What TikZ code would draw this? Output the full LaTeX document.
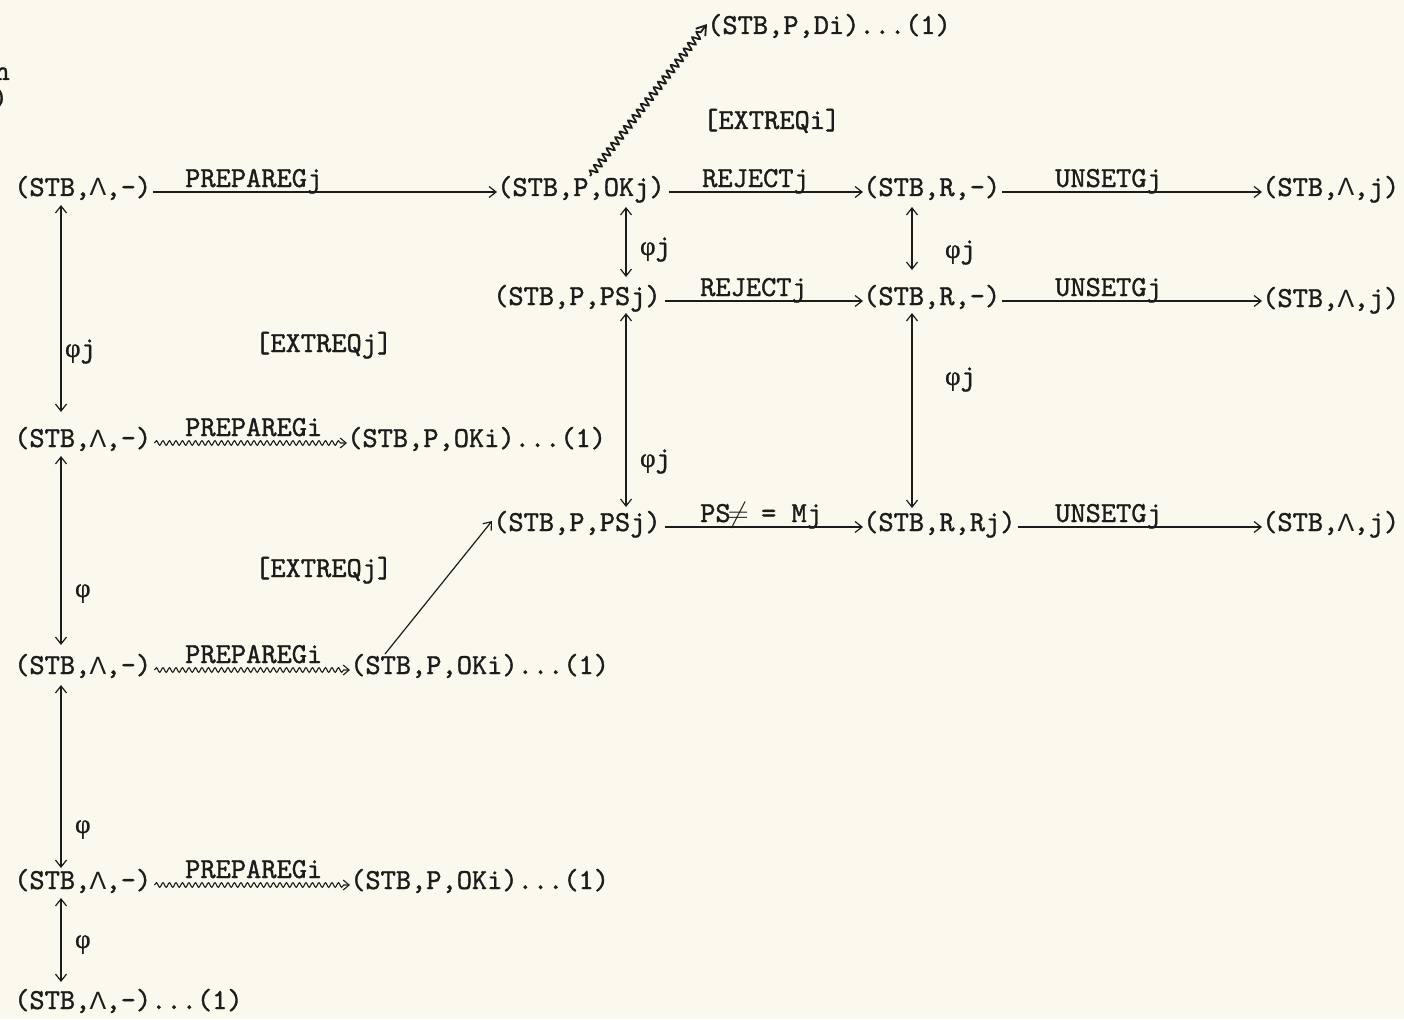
\RequirePackage{fix-cm}
\documentclass[tikz,border=0pt]{standalone}
\usepackage{fontspec}
\usetikzlibrary{arrows.meta,decorations.pathmorphing,calc}
\newfontfamily\tw{lmmono10-regular.otf}[FakeBold=1.2]
\newfontfamily\grk{Liberation Sans}
\newfontfamily\grs{Liberation Serif}[FakeBold=0.8]
\definecolor{paper}{RGB}{251,249,237}
\definecolor{ink}{RGB}{28,28,28}
% typewriter glyphs kept to the fixed pitch
\newcommand\Lam{\makebox[0.525em]{\grk\fontsize{25}{25}\selectfont Λ}}
\newcommand\myphi{\makebox[0.525em]{\grs\fontsize{27}{27}\selectfont φ}}
\newcommand\neqsym{\makebox[0.525em]{$\neq$}}
\tikzset{
  txt/.style={anchor=base west, inner sep=0pt, text=ink, font=\tw\fontsize{29}{34}\selectfont},
  arr/.style={draw=ink, line width=1.2pt, -{Straight Barb[length=7pt,width=11pt]}},
  dbl/.style={draw=ink, line width=1.2pt, {Straight Barb[length=7pt,width=11pt]}-{Straight Barb[length=7pt,width=11pt]}},
  wav/.style={draw=ink, line width=1.1pt, -{Straight Barb[length=6pt,width=10pt]},
    decorate, decoration={snake, amplitude=2.3pt, segment length=6.5pt, post length=6pt}},
  wavbig/.style={draw=ink, line width=1.8pt, -{Straight Barb[length=9pt,width=12pt]},
    decorate, decoration={snake, amplitude=3.6pt, segment length=7pt, pre length=2pt, post length=9pt}},
}
\begin{document}
\begin{tikzpicture}[x=1pt,y=-1pt]
\fill[paper] (0,0) rectangle (1404,1019);
\useasboundingbox (0,0) rectangle (1404,1019);

% states
\node[txt] (di)   at (707,34)   {(STB,P,Di)...(1)};
\node[txt] (ext1) at (703,129)  {[EXTREQi]};
\node[txt] (a1)   at (14,196)   {(STB,\Lam,-)};
\node[txt] (pj1)  at (497,196)  {(STB,P,OKj)};
\node[txt] (r1)   at (863,196)  {(STB,R,-)};
\node[txt] (u1)   at (1262,196) {(STB,\Lam,j)};
\node[txt] (ps1)  at (493,305)  {(STB,P,PSj)};
\node[txt] (r2)   at (863,305)  {(STB,R,-)};
\node[txt] (u2)   at (1262,307) {(STB,\Lam,j)};
\node[txt] (ext2) at (255,352)  {[EXTREQj]};
\node[txt] (a2)   at (14,447)   {(STB,\Lam,-)};
\node[txt] (oki1) at (347,447)  {(STB,P,OKi)...(1)};
\node[txt] (ps2)  at (493,531)  {(STB,P,PSj)};
\node[txt] (r3)   at (863,531)  {(STB,R,Rj)};
\node[txt] (u3)   at (1262,531) {(STB,\Lam,j)};
\node[txt] (ext3) at (255,577)  {[EXTREQj]};
\node[txt] (a3)   at (14,674)   {(STB,\Lam,-)};
\node[txt] (oki2) at (350,674)  {(STB,P,OKi)...(1)};
\node[txt] (a4)   at (14,889)   {(STB,\Lam,-)};
\node[txt] (oki3) at (350,889)  {(STB,P,OKi)...(1)};
\node[txt] (a5)   at (14,1009)  {(STB,\Lam,-)...(1)};
\node[txt,anchor=base east] (frag1) at (10,80)  {n};
\node[txt,anchor=base east] (frag2) at (8,107) {)};

% transition labels
\node[txt] (l1)  at (185,187)  {PREPAREGj};
\node[txt] (l2)  at (702,187)  {REJECTj};
\node[txt] (l3)  at (1055,187) {UNSETGj};
\node[txt] (l4)  at (700,296)  {REJECTj};
\node[txt] (l5)  at (1055,296) {UNSETGj};
\node[txt] (l6)  at (185,436)  {PREPAREGi};
\node[txt] (l7)  at (700,522)  {PS\neqsym{} = Mj};
\node[txt] (l8)  at (1055,522) {UNSETGj};
\node[txt] (l9)  at (185,663)  {PREPAREGi};
\node[txt] (l10) at (185,878)  {PREPAREGi};

% phi labels on the vertical links
\node[txt] (f1) at (65,357)  {\myphi j};
\node[txt] (f2) at (640,255) {\myphi j};
\node[txt] (f3) at (945,258) {\myphi j};
\node[txt] (f4) at (640,467) {\myphi j};
\node[txt] (f5) at (945,385) {\myphi j};
\node[txt] (f6) at (75,597)  {\myphi};
\node[txt] (f7) at (75,833)  {\myphi};
\node[txt] (f8) at (75,948)  {\myphi};

% horizontal transitions
\draw[arr] ($(a1.base east)+(2,-4)$)  -- ($(pj1.base west)+(0,-4)$);
\draw[arr] ($(pj1.base east)+(4,-4)$) -- ($(r1.base west)+(0,-4)$);
\draw[arr] ($(r1.base east)+(2,-4)$)  -- ($(u1.base west)+(0,-4)$);
\draw[arr] ($(ps1.base east)+(4,-4)$) -- ($(r2.base west)+(0,-4)$);
\draw[arr] ($(r2.base east)+(2,-4)$)  -- ($(u2.base west)+(0,-6)$);
\draw[arr] ($(ps2.base east)+(4,-4)$) -- ($(r3.base west)+(0,-4)$);
\draw[arr] ($(r3.base east)+(2,-4)$)  -- ($(u3.base west)+(0,-4)$);

% wavy transitions
\draw[wav] ($(a2.base east)+(3,-4)$) -- ($(oki1.base west)+(0,-4)$);
\draw[wav] ($(a3.base east)+(3,-4)$) -- ($(oki2.base west)+(0,-4)$);
\draw[wav] ($(a4.base east)+(3,-4)$) -- ($(oki3.base west)+(0,-4)$);
\draw[wavbig] ($(pj1.base west)+(93,-20)$) -- ($(di.base west)+(0,-10)$);

% diagonal transition
\draw[arr] ($(oki2.base west)+(35,-20)$) -- ($(ps2.base west)+(-1,-10)$);

% vertical links
\draw[dbl] ($(a1.base west)+(47,9)$)   -- ($(a2.base west)+(47,-35)$);
\draw[dbl] ($(a2.base west)+(47,9)$)   -- ($(a3.base west)+(47,-29)$);
\draw[dbl] ($(a3.base west)+(47,11)$)  -- ($(a4.base west)+(47,-21)$);
\draw[dbl] ($(a4.base west)+(47,9)$)   -- ($(a5.base west)+(47,-27)$);
\draw[dbl] ($(pj1.base west)+(129,11)$) -- ($(ps1.base west)+(133,-28)$);
\draw[dbl] ($(ps1.base west)+(133,8)$)  -- ($(ps2.base west)+(133,-24)$);
\draw[dbl] ($(r1.base west)+(49,11)$)   -- ($(r2.base west)+(49,-35)$);
\draw[dbl] ($(r2.base west)+(49,8)$)    -- ($(r3.base west)+(49,-23)$);
\end{tikzpicture}
\end{document}
